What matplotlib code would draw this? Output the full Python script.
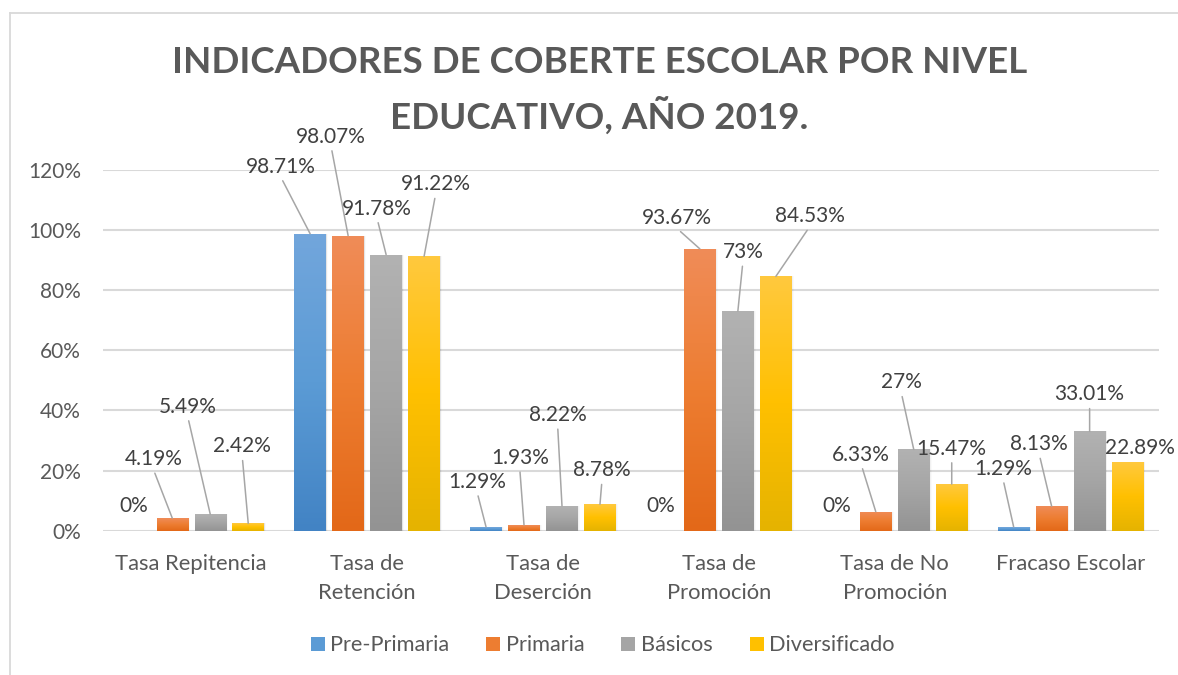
import numpy as np
import matplotlib.pyplot as plt
from matplotlib.colors import LinearSegmentedColormap
from matplotlib.lines import Line2D

# data
categories = ['Tasa Repitencia', 'Tasa de\nRetención', 'Tasa de\nDeserción',
              'Tasa de\nPromoción', 'Tasa de No\nPromoción', 'Fracaso Escolar']
series = ['Pre-Primaria', 'Primaria', 'Básicos', 'Diversificado']
pre_primaria = [0, 98.71, 1.29, 0, 0, 1.29]
primaria = [4.19, 98.07, 1.93, 93.67, 6.33, 8.13]
basicos = [5.49, 91.78, 8.22, 73, 27, 33.01]
diversificado = [2.42, 91.22, 8.78, 84.53, 15.47, 22.89]
y_ticks = [0, 20, 40, 60, 80, 100, 120]

values = [pre_primaria, primaria, basicos, diversificado]

# gradient colours (top, middle, bottom) per series
grads = [('#72a6dc', '#5b9bd5', '#4283c4'),
         ('#f08c58', '#ed7d31', '#e36818'),
         ('#b2b2b2', '#a5a5a5', '#939393'),
         ('#ffc93e', '#ffc000', '#e5b300')]

# label offsets in pixels (dx, dy) from the top of each bar, as placed in the original
label_offsets = [
    [(-1, 25), (-29.5, 67), (-9, 45), (-1, 25), (-1.3, 25), (-10.7, 58)],
    [(-19, 59), (-17, 99), (-4.3, 67), (-23.5, 31), (-14.5, 57), (-12.4, 62)],
    [(-22.5, 107.5), (-9, 46), (-4.4, 91), (5, 59), (-12.5, 67), (0, 37)],
    [(-6, 77), (11.5, 72), (2, 34), (34, 60), (0, 35.5), (12, 14)],
]

plt.rcParams['font.family'] = ['Lato', 'DejaVu Sans']
txt_gray = '#595959'

fig = plt.figure(figsize=(11.78, 6.75), dpi=100)
ax = fig.add_axes([0.0877, 0.2138, 0.8958, 0.5348])

x = np.arange(len(categories))
bar_w = 0.179
step = 0.216

for i, vals in enumerate(values):
    pos = x + (i - 1.5) * step
    cmap = LinearSegmentedColormap.from_list('g%d' % i, list(grads[i][::-1]))
    # soft shadow on the right
    for k, a in enumerate([0.05, 0.035, 0.02]):
        ax.bar(pos + 0.004 * (k + 1), vals, bar_w, color='black', alpha=a, zorder=2,
               linewidth=0)
    bars = ax.bar(pos, vals, bar_w, color=grads[i][1], label=series[i], zorder=3,
                  linewidth=0)
    grad = np.linspace(0, 1, 256).reshape(-1, 1)
    for b in bars:
        h = b.get_height()
        if h <= 0:
            continue
        im = ax.imshow(grad, cmap=cmap, aspect='auto', origin='lower',
                       extent=[b.get_x(), b.get_x() + b.get_width(), 0, h], zorder=3.5)
        im.set_clip_path(b)
    for j, v in enumerate(vals):
        dx, dy = label_offsets[i][j]
        arrow = None
        if v > 0 and dy > 28:
            arrow = dict(arrowstyle='-', color='#a6a6a6', lw=1.1, shrinkA=1, shrinkB=0,
                         relpos=(0.5, 0.0))
        ax.annotate('%g%%' % v, xy=(pos[j], v), xytext=(dx, dy),
                    textcoords='offset pixels', ha='center', va='center',
                    fontsize=15, color='#404040', arrowprops=arrow,
                    annotation_clip=False, zorder=5)

ax.set_xlim(-0.5, len(categories) - 0.5)
ax.set_ylim(0, 120)
ax.set_yticks(y_ticks)
ax.set_yticklabels(['%d%%' % t for t in y_ticks])
ax.set_xticks(x)
ax.set_xticklabels(categories, linespacing=1.55)
ax.tick_params(axis='both', length=0, colors=txt_gray)
ax.tick_params(axis='y', pad=16, labelsize=15)
ax.tick_params(axis='x', pad=17, labelsize=15.8)
ax.grid(axis='y', color='#d9d9d9', linewidth=1.5, zorder=0)
ax.set_axisbelow(True)
for s in ax.spines.values():
    s.set_visible(False)

fig.text(0.509, 0.908, 'INDICADORES DE COBERTE ESCOLAR POR NIVEL',
         ha='center', va='center', fontsize=26.5, fontweight='bold', color=txt_gray)
fig.text(0.509, 0.829, 'EDUCATIVO, AÑO 2019.',
         ha='center', va='center', fontsize=26.5, fontweight='bold', color=txt_gray)

leg = ax.legend(loc='center', bbox_to_anchor=(0.5115, 0.044), bbox_transform=fig.transFigure,
                ncol=4, frameon=False, fontsize=15.7, handlelength=0.64, handleheight=0.6,
                handletextpad=0.25, columnspacing=1.7)
for t in leg.get_texts():
    t.set_color(txt_gray)

# chart frame (only its top and left edges fall inside the picture)
x0 = 9.5 / 1178
y0 = 1 - 12.5 / 675
fig.add_artist(Line2D([x0, 1], [y0, y0], transform=fig.transFigure,
                      color='#d9d9d9', linewidth=1.3))
fig.add_artist(Line2D([x0, x0], [0, y0], transform=fig.transFigure,
                      color='#d9d9d9', linewidth=1.3))

fig.savefig('out.png', dpi=100)
